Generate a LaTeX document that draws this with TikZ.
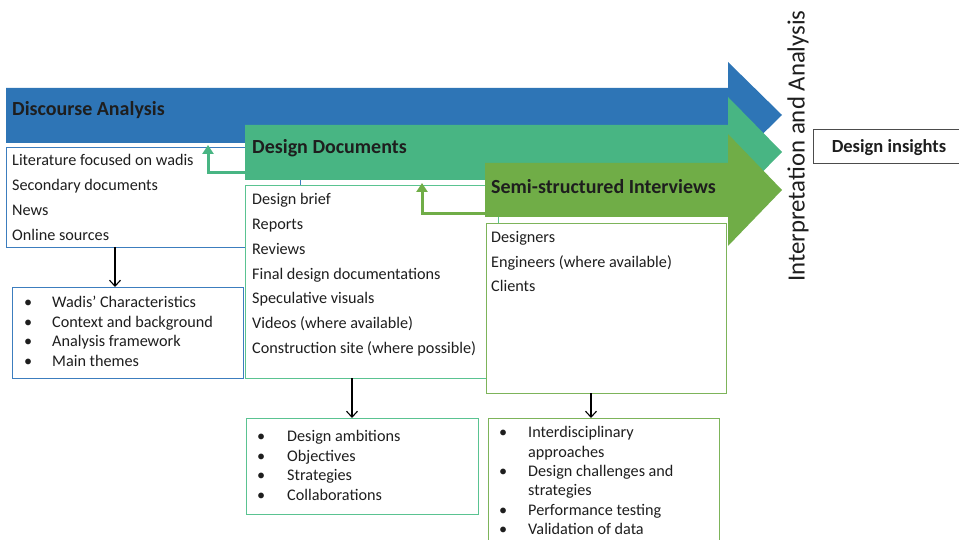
\documentclass[tikz,border=0pt]{standalone}
\usepackage{fontspec}
\setmainfont{Carlito}
\usetikzlibrary{arrows.meta}
\definecolor{dablue}{RGB}{46,117,182}
\definecolor{ddteal}{RGB}{72,181,131}
\definecolor{siolive}{RGB}{112,173,71}
\definecolor{dabord}{RGB}{60,125,190}
\definecolor{ddbord}{RGB}{90,195,145}
\definecolor{sibord}{RGB}{125,180,90}
\definecolor{ink}{RGB}{30,30,30}
\begin{document}
\begin{tikzpicture}[x=1pt,y=-1pt,
  txt/.style={anchor=west, inner sep=0pt, text=ink, font=\fontsize{16.2}{19}\selectfont, text height=13pt, text depth=1.5pt},
  head/.style={anchor=west, inner sep=0pt, text=ink, font=\fontsize{20}{24}\selectfont\bfseries},
  frame/.style={draw=#1, line width=1.1pt, fill=white, anchor=north west, inner sep=0pt},
  elbow/.style={draw=#1, line width=3pt, -{Triangle[length=9pt,width=11pt]}},
  down/.style={draw=black, line width=1.1pt, -{Straight Barb[length=6pt,width=11pt]}}
]
\useasboundingbox (0,0) rectangle (959,540);

% ---- Discourse Analysis
\fill[dablue] (6,88) -- (728,88) -- (728,62) -- (782,115) -- (728,168) -- (728,143) -- (6,143) -- cycle;
\node[head] (dahead) at (12,110) {Discourse Analysis};
\node[frame=dabord, minimum width=294pt, minimum height=100pt] (dabox) at (6,147) {};
\foreach \t [count=\i] in {Literature focused on wadis, Secondary documents, News, Online sources}
  \node[txt] (dal\i) at (12,{160+25*(\i-1)}) {\t};
\node[frame=dabord, minimum width=231pt, minimum height=91pt] (dabul) at (12,287) {};
\foreach \t [count=\i] in {Wadis’ Characteristics, Context and background, Analysis framework, Main themes}
  \node[txt] (dab\i) at (24,{302+19.6*(\i-1)}) {\makebox[28pt][l]{•}\t};
\coordinate (dadn1) at (115,247);
\coordinate (dadn2) at (115,287);
\draw[down] (dadn1) -- (dadn2);

% ---- Design Documents
\fill[ddteal] (245,125) -- (728,125) -- (728,97) -- (782,152) -- (728,207) -- (728,180) -- (245,180) -- cycle;
\node[head] (ddhead) at (252,148) {Design Documents};
\coordinate (ddl) at (245,173);
\coordinate (datip) at (208,145);
\draw[elbow=ddteal] (ddl) -| (datip);
\node[frame=ddbord, minimum width=253pt, minimum height=193pt] (ddbox) at (245,185) {};
\foreach \t [count=\i] in {Design brief, Reports, Reviews, Final design documentations, Speculative visuals, {Videos (where available)}, {Construction site (where possible)}}
  \node[txt] (ddl\i) at (252,{199+24.8*(\i-1)}) {\t};
\node[frame=ddbord, minimum width=232pt, minimum height=96pt] (ddbul) at (246,418) {};
\foreach \t [count=\i] in {Design ambitions, Objectives, Strategies, Collaborations}
  \node[txt] (ddb\i) at (257,{436+19.6*(\i-1)}) {\makebox[30pt][l]{•}\t};
\coordinate (dddn1) at (352,378);
\coordinate (dddn2) at (352,418);
\draw[down] (dddn1) -- (dddn2);

% ---- Semi-structured Interviews
\fill[siolive] (485,163) -- (728,163) -- (728,134) -- (782,190) -- (728,246) -- (728,217) -- (485,217) -- cycle;
\node[head] (sihead) at (491,187) {Semi-structured Interviews};
\coordinate (sil) at (485,214);
\coordinate (ddtip) at (422,183);
\draw[elbow=siolive] (sil) -| (ddtip);
\node[frame=sibord, minimum width=240pt, minimum height=170pt] (sibox) at (486,223) {};
\foreach \t [count=\i] in {Designers, {Engineers (where available)}, Clients}
  \node[txt] (sil\i) at (491,{237+24.5*(\i-1)}) {\t};
\node[frame=sibord, minimum width=231pt, minimum height=130pt] (sibul) at (488,418) {};
\foreach \b/\t [count=\i] in {•/Interdisciplinary, /approaches, •/Design challenges and, /strategies, •/Performance testing, •/Validation of data}
  \node[txt] (sib\i) at (499,{432+19.4*(\i-1)}) {\makebox[29pt][l]{\b}\t};
\coordinate (sidn1) at (591,393);
\coordinate (sidn2) at (591,418);
\draw[down] (sidn1) -- (sidn2);

% ---- Interpretation and insights
\node[rotate=90, inner sep=0pt, text=ink, font=\fontsize{24.8}{28}\selectfont] (interp) at (798,146) {Interpretation and Analysis};
\node[draw=black!70, line width=0.8pt, anchor=north west, minimum width=150pt, minimum height=34pt, inner sep=0pt] (insbox) at (813,129) {};
\node[inner sep=0pt, text=ink, font=\fontsize{18.5}{22}\selectfont\bfseries] (ins) at (889,148) {Design insights};
\end{tikzpicture}
\end{document}
